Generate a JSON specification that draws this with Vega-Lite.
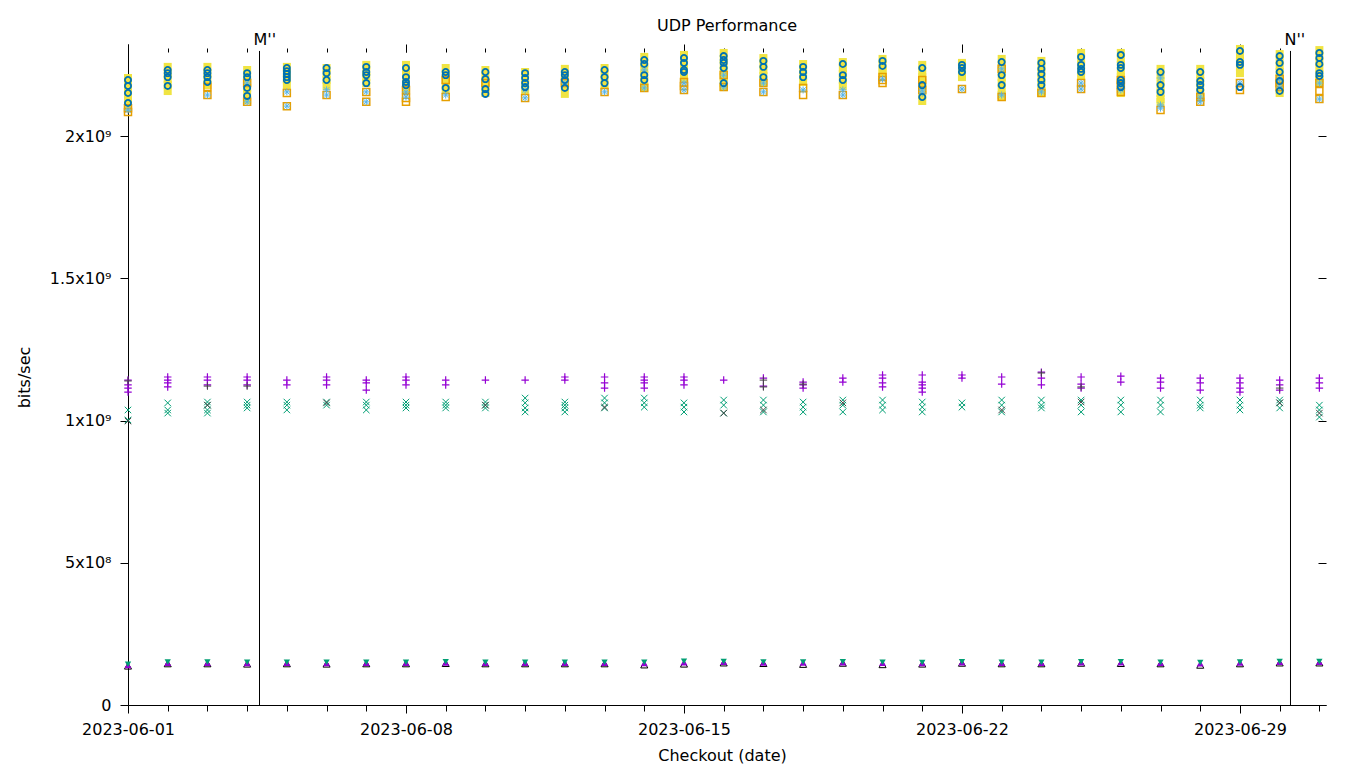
{
 "$schema": "https://vega.github.io/schema/vega-lite/v6.json",
 "width": 1198, "height": 661,
 "autosize": {"type": "none"},
 "padding": {"left": 128, "top": 44, "right": 34, "bottom": 63},
 "background": "white",
 "config": {"font": "DejaVu Sans", "view": {"stroke": null},
  "axis": {"grid": false, "domainColor": "black", "tickColor": "black", "labelColor": "black", "titleColor": "black", "labelFontSize": 16, "titleFontSize": 16, "titleFontWeight": "normal", "labelFont": "DejaVu Sans", "titleFont": "DejaVu Sans", "domainWidth": 1, "tickWidth": 1}},
 "title": {"text": "UDP Performance", "fontSize": 16, "fontWeight": "normal", "color": "black", "font": "DejaVu Sans", "anchor": "middle", "baseline": "alphabetic", "offset": -15},
 "data": {"values": [
{"d":"2023-06-01","s":"Y","v":2.204},{"d":"2023-06-01","s":"Y","v":2.183},{"d":"2023-06-01","s":"Y","v":2.162},{"d":"2023-06-01","s":"Y","v":2.141},{"d":"2023-06-01","s":"Y","v":2.12},{"d":"2023-06-01","s":"Y","v":2.102},
{"d":"2023-06-01","s":"O","v":2.098},{"d":"2023-06-01","s":"O","v":2.084},{"d":"2023-06-01","s":"L","v":2.091},
{"d":"2023-06-01","s":"B","v":2.197},{"d":"2023-06-01","s":"B","v":2.176},{"d":"2023-06-01","s":"B","v":2.151},{"d":"2023-06-01","s":"B","v":2.116},
{"d":"2023-06-01","s":"P","v":1.142},{"d":"2023-06-01","s":"P","v":1.125},{"d":"2023-06-01","s":"P","v":1.114},{"d":"2023-06-01","s":"P","v":1.1},
{"d":"2023-06-01","s":"G","v":1.037},{"d":"2023-06-01","s":"G","v":1.002},{"d":"2023-06-01","s":"KP","v":1.139},{"d":"2023-06-01","s":"KX","v":0.998},
{"d":"2023-06-01","s":"PT","v":0.14},{"d":"2023-06-01","s":"GT","v":0.143},{"d":"2023-06-01","s":"KB","v":0.137},

{"d":"2023-06-02","s":"Y","v":2.243},{"d":"2023-06-02","s":"Y","v":2.221},{"d":"2023-06-02","s":"Y","v":2.2},{"d":"2023-06-02","s":"Y","v":2.179},{"d":"2023-06-02","s":"Y","v":2.158},
{"d":"2023-06-02","s":"B","v":2.232},{"d":"2023-06-02","s":"B","v":2.221},{"d":"2023-06-02","s":"B","v":2.207},{"d":"2023-06-02","s":"B","v":2.176},
{"d":"2023-06-02","s":"P","v":1.153},{"d":"2023-06-02","s":"P","v":1.142},{"d":"2023-06-02","s":"P","v":1.132},{"d":"2023-06-02","s":"P","v":1.118},
{"d":"2023-06-02","s":"G","v":1.062},{"d":"2023-06-02","s":"G","v":1.037},{"d":"2023-06-02","s":"G","v":1.026},
{"d":"2023-06-02","s":"PT","v":0.148},{"d":"2023-06-02","s":"GT","v":0.151},{"d":"2023-06-02","s":"KB","v":0.145},

{"d":"2023-06-03","s":"Y","v":2.243},{"d":"2023-06-03","s":"Y","v":2.221},{"d":"2023-06-03","s":"Y","v":2.2},{"d":"2023-06-03","s":"Y","v":2.179},
{"d":"2023-06-03","s":"O","v":2.172},{"d":"2023-06-03","s":"O","v":2.144},{"d":"2023-06-03","s":"L","v":2.144},
{"d":"2023-06-03","s":"B","v":2.232},{"d":"2023-06-03","s":"B","v":2.221},{"d":"2023-06-03","s":"B","v":2.207},{"d":"2023-06-03","s":"B","v":2.19},
{"d":"2023-06-03","s":"P","v":1.153},{"d":"2023-06-03","s":"P","v":1.142},{"d":"2023-06-03","s":"P","v":1.125},
{"d":"2023-06-03","s":"G","v":1.065},{"d":"2023-06-03","s":"G","v":1.054},{"d":"2023-06-03","s":"G","v":1.037},{"d":"2023-06-03","s":"G","v":1.026},
{"d":"2023-06-03","s":"KP","v":1.121},{"d":"2023-06-03","s":"KX","v":1.054},
{"d":"2023-06-03","s":"PT","v":0.148},{"d":"2023-06-03","s":"GT","v":0.151},{"d":"2023-06-03","s":"KB","v":0.145},

{"d":"2023-06-04","s":"Y","v":2.232},{"d":"2023-06-04","s":"Y","v":2.211},{"d":"2023-06-04","s":"Y","v":2.19},{"d":"2023-06-04","s":"Y","v":2.169},{"d":"2023-06-04","s":"Y","v":2.148},{"d":"2023-06-04","s":"Y","v":2.127},
{"d":"2023-06-04","s":"O","v":2.186},{"d":"2023-06-04","s":"O","v":2.12},{"d":"2023-06-04","s":"L","v":2.186},{"d":"2023-06-04","s":"L","v":2.12},
{"d":"2023-06-04","s":"B","v":2.221},{"d":"2023-06-04","s":"B","v":2.207},{"d":"2023-06-04","s":"B","v":2.169},{"d":"2023-06-04","s":"B","v":2.141},
{"d":"2023-06-04","s":"P","v":1.153},{"d":"2023-06-04","s":"P","v":1.142},{"d":"2023-06-04","s":"P","v":1.125},
{"d":"2023-06-04","s":"G","v":1.065},{"d":"2023-06-04","s":"G","v":1.054},{"d":"2023-06-04","s":"G","v":1.044},{"d":"2023-06-04","s":"KP","v":1.121},
{"d":"2023-06-04","s":"PT","v":0.147},{"d":"2023-06-04","s":"GT","v":0.15},{"d":"2023-06-04","s":"KB","v":0.144},

{"d":"2023-06-05","s":"Y","v":2.243},{"d":"2023-06-05","s":"Y","v":2.221},{"d":"2023-06-05","s":"Y","v":2.2},{"d":"2023-06-05","s":"Y","v":2.179},
{"d":"2023-06-05","s":"O","v":2.151},{"d":"2023-06-05","s":"O","v":2.105},{"d":"2023-06-05","s":"L","v":2.155},{"d":"2023-06-05","s":"L","v":2.105},
{"d":"2023-06-05","s":"B","v":2.239},{"d":"2023-06-05","s":"B","v":2.228},{"d":"2023-06-05","s":"B","v":2.218},{"d":"2023-06-05","s":"B","v":2.207},{"d":"2023-06-05","s":"B","v":2.197},
{"d":"2023-06-05","s":"P","v":1.142},{"d":"2023-06-05","s":"P","v":1.125},
{"d":"2023-06-05","s":"G","v":1.065},{"d":"2023-06-05","s":"G","v":1.054},{"d":"2023-06-05","s":"G","v":1.037},
{"d":"2023-06-05","s":"PT","v":0.148},{"d":"2023-06-05","s":"GT","v":0.15},{"d":"2023-06-05","s":"KB","v":0.145},

{"d":"2023-06-06","s":"Y","v":2.239},{"d":"2023-06-06","s":"Y","v":2.218},{"d":"2023-06-06","s":"Y","v":2.197},{"d":"2023-06-06","s":"Y","v":2.176},
{"d":"2023-06-06","s":"O","v":2.144},{"d":"2023-06-06","s":"L","v":2.162},{"d":"2023-06-06","s":"L","v":2.144},
{"d":"2023-06-06","s":"B","v":2.239},{"d":"2023-06-06","s":"B","v":2.221},{"d":"2023-06-06","s":"B","v":2.197},
{"d":"2023-06-06","s":"P","v":1.153},{"d":"2023-06-06","s":"P","v":1.142},{"d":"2023-06-06","s":"P","v":1.125},
{"d":"2023-06-06","s":"G","v":1.065},{"d":"2023-06-06","s":"G","v":1.054},{"d":"2023-06-06","s":"KX","v":1.062},
{"d":"2023-06-06","s":"PT","v":0.147},{"d":"2023-06-06","s":"GT","v":0.15},{"d":"2023-06-06","s":"KB","v":0.144},

{"d":"2023-06-07","s":"Y","v":2.25},{"d":"2023-06-07","s":"Y","v":2.228},{"d":"2023-06-07","s":"Y","v":2.207},{"d":"2023-06-07","s":"Y","v":2.186},
{"d":"2023-06-07","s":"O","v":2.155},{"d":"2023-06-07","s":"O","v":2.12},{"d":"2023-06-07","s":"L","v":2.155},{"d":"2023-06-07","s":"L","v":2.12},
{"d":"2023-06-07","s":"B","v":2.243},{"d":"2023-06-07","s":"B","v":2.225},{"d":"2023-06-07","s":"B","v":2.214},{"d":"2023-06-07","s":"B","v":2.186},
{"d":"2023-06-07","s":"P","v":1.142},{"d":"2023-06-07","s":"P","v":1.132},{"d":"2023-06-07","s":"P","v":1.107},
{"d":"2023-06-07","s":"G","v":1.065},{"d":"2023-06-07","s":"G","v":1.054},{"d":"2023-06-07","s":"G","v":1.037},
{"d":"2023-06-07","s":"PT","v":0.148},{"d":"2023-06-07","s":"GT","v":0.15},{"d":"2023-06-07","s":"KB","v":0.145},

{"d":"2023-06-08","s":"Y","v":2.25},{"d":"2023-06-08","s":"Y","v":2.228},{"d":"2023-06-08","s":"Y","v":2.207},{"d":"2023-06-08","s":"Y","v":2.186},{"d":"2023-06-08","s":"Y","v":2.165},
{"d":"2023-06-08","s":"O","v":2.162},{"d":"2023-06-08","s":"O","v":2.134},{"d":"2023-06-08","s":"O","v":2.12},{"d":"2023-06-08","s":"L","v":2.155},{"d":"2023-06-08","s":"L","v":2.137},
{"d":"2023-06-08","s":"B","v":2.239},{"d":"2023-06-08","s":"B","v":2.207},{"d":"2023-06-08","s":"B","v":2.19},{"d":"2023-06-08","s":"B","v":2.179},
{"d":"2023-06-08","s":"P","v":1.153},{"d":"2023-06-08","s":"P","v":1.142},{"d":"2023-06-08","s":"P","v":1.125},
{"d":"2023-06-08","s":"G","v":1.065},{"d":"2023-06-08","s":"G","v":1.054},{"d":"2023-06-08","s":"G","v":1.044},
{"d":"2023-06-08","s":"PT","v":0.148},{"d":"2023-06-08","s":"GT","v":0.15},{"d":"2023-06-08","s":"KB","v":0.145},

{"d":"2023-06-09","s":"Y","v":2.239},{"d":"2023-06-09","s":"Y","v":2.218},{"d":"2023-06-09","s":"Y","v":2.197},{"d":"2023-06-09","s":"Y","v":2.176},{"d":"2023-06-09","s":"Y","v":2.162},
{"d":"2023-06-09","s":"O","v":2.197},{"d":"2023-06-09","s":"O","v":2.137},{"d":"2023-06-09","s":"L","v":2.144},
{"d":"2023-06-09","s":"B","v":2.225},{"d":"2023-06-09","s":"B","v":2.214},{"d":"2023-06-09","s":"B","v":2.169},
{"d":"2023-06-09","s":"P","v":1.142},{"d":"2023-06-09","s":"P","v":1.125},
{"d":"2023-06-09","s":"G","v":1.065},{"d":"2023-06-09","s":"G","v":1.054},{"d":"2023-06-09","s":"G","v":1.044},
{"d":"2023-06-09","s":"PT","v":0.149},{"d":"2023-06-09","s":"GT","v":0.152},{"d":"2023-06-09","s":"KB","v":0.146},

{"d":"2023-06-10","s":"Y","v":2.232},{"d":"2023-06-10","s":"Y","v":2.211},{"d":"2023-06-10","s":"Y","v":2.19},{"d":"2023-06-10","s":"Y","v":2.169},{"d":"2023-06-10","s":"Y","v":2.151},
{"d":"2023-06-10","s":"O","v":2.186},
{"d":"2023-06-10","s":"B","v":2.225},{"d":"2023-06-10","s":"B","v":2.2},{"d":"2023-06-10","s":"B","v":2.165},{"d":"2023-06-10","s":"B","v":2.148},
{"d":"2023-06-10","s":"P","v":1.142},
{"d":"2023-06-10","s":"G","v":1.065},{"d":"2023-06-10","s":"G","v":1.054},{"d":"2023-06-10","s":"G","v":1.044},{"d":"2023-06-10","s":"KX","v":1.054},
{"d":"2023-06-10","s":"PT","v":0.148},{"d":"2023-06-10","s":"GT","v":0.15},{"d":"2023-06-10","s":"KB","v":0.145},

{"d":"2023-06-11","s":"Y","v":2.225},{"d":"2023-06-11","s":"Y","v":2.204},{"d":"2023-06-11","s":"Y","v":2.183},{"d":"2023-06-11","s":"Y","v":2.162},
{"d":"2023-06-11","s":"O","v":2.134},{"d":"2023-06-11","s":"L","v":2.162},{"d":"2023-06-11","s":"L","v":2.134},
{"d":"2023-06-11","s":"B","v":2.221},{"d":"2023-06-11","s":"B","v":2.204},{"d":"2023-06-11","s":"B","v":2.186},{"d":"2023-06-11","s":"B","v":2.172},
{"d":"2023-06-11","s":"P","v":1.142},
{"d":"2023-06-11","s":"G","v":1.079},{"d":"2023-06-11","s":"G","v":1.062},{"d":"2023-06-11","s":"G","v":1.044},{"d":"2023-06-11","s":"G","v":1.03},
{"d":"2023-06-11","s":"PT","v":0.148},{"d":"2023-06-11","s":"GT","v":0.15},{"d":"2023-06-11","s":"KB","v":0.145},

{"d":"2023-06-12","s":"Y","v":2.236},{"d":"2023-06-12","s":"Y","v":2.214},{"d":"2023-06-12","s":"Y","v":2.193},{"d":"2023-06-12","s":"Y","v":2.172},{"d":"2023-06-12","s":"Y","v":2.148},
{"d":"2023-06-12","s":"O","v":2.186},{"d":"2023-06-12","s":"L","v":2.186},
{"d":"2023-06-12","s":"B","v":2.225},{"d":"2023-06-12","s":"B","v":2.214},{"d":"2023-06-12","s":"B","v":2.197},{"d":"2023-06-12","s":"B","v":2.169},
{"d":"2023-06-12","s":"P","v":1.153},{"d":"2023-06-12","s":"P","v":1.142},
{"d":"2023-06-12","s":"G","v":1.065},{"d":"2023-06-12","s":"G","v":1.054},{"d":"2023-06-12","s":"G","v":1.044},{"d":"2023-06-12","s":"G","v":1.03},
{"d":"2023-06-12","s":"PT","v":0.148},{"d":"2023-06-12","s":"GT","v":0.15},{"d":"2023-06-12","s":"KB","v":0.145},

{"d":"2023-06-13","s":"Y","v":2.239},{"d":"2023-06-13","s":"Y","v":2.218},{"d":"2023-06-13","s":"Y","v":2.197},{"d":"2023-06-13","s":"Y","v":2.179},
{"d":"2023-06-13","s":"O","v":2.155},{"d":"2023-06-13","s":"L","v":2.155},
{"d":"2023-06-13","s":"B","v":2.232},{"d":"2023-06-13","s":"B","v":2.207},{"d":"2023-06-13","s":"B","v":2.186},
{"d":"2023-06-13","s":"P","v":1.153},{"d":"2023-06-13","s":"P","v":1.132},{"d":"2023-06-13","s":"P","v":1.114},
{"d":"2023-06-13","s":"G","v":1.079},{"d":"2023-06-13","s":"G","v":1.062},{"d":"2023-06-13","s":"G","v":1.044},{"d":"2023-06-13","s":"KX","v":1.047},
{"d":"2023-06-13","s":"PT","v":0.148},{"d":"2023-06-13","s":"GT","v":0.15},{"d":"2023-06-13","s":"KB","v":0.145},

{"d":"2023-06-14","s":"Y","v":2.278},{"d":"2023-06-14","s":"Y","v":2.257},{"d":"2023-06-14","s":"Y","v":2.236},{"d":"2023-06-14","s":"Y","v":2.214},{"d":"2023-06-14","s":"Y","v":2.193},{"d":"2023-06-14","s":"Y","v":2.172},
{"d":"2023-06-14","s":"O","v":2.169},{"d":"2023-06-14","s":"L","v":2.232},{"d":"2023-06-14","s":"L","v":2.169},
{"d":"2023-06-14","s":"B","v":2.267},{"d":"2023-06-14","s":"B","v":2.253},{"d":"2023-06-14","s":"B","v":2.214},{"d":"2023-06-14","s":"B","v":2.197},
{"d":"2023-06-14","s":"P","v":1.153},{"d":"2023-06-14","s":"P","v":1.142},{"d":"2023-06-14","s":"P","v":1.132},{"d":"2023-06-14","s":"P","v":1.114},
{"d":"2023-06-14","s":"G","v":1.079},{"d":"2023-06-14","s":"G","v":1.062},{"d":"2023-06-14","s":"G","v":1.047},
{"d":"2023-06-14","s":"PT","v":0.147},{"d":"2023-06-14","s":"GT","v":0.15},{"d":"2023-06-14","s":"KB","v":0.141},

{"d":"2023-06-15","s":"Y","v":2.285},{"d":"2023-06-15","s":"Y","v":2.264},{"d":"2023-06-15","s":"Y","v":2.243},{"d":"2023-06-15","s":"Y","v":2.221},{"d":"2023-06-15","s":"Y","v":2.2},
{"d":"2023-06-15","s":"O","v":2.19},{"d":"2023-06-15","s":"O","v":2.176},{"d":"2023-06-15","s":"O","v":2.162},{"d":"2023-06-15","s":"L","v":2.186},{"d":"2023-06-15","s":"L","v":2.162},
{"d":"2023-06-15","s":"B","v":2.274},{"d":"2023-06-15","s":"B","v":2.257},{"d":"2023-06-15","s":"B","v":2.232},{"d":"2023-06-15","s":"B","v":2.225},
{"d":"2023-06-15","s":"P","v":1.153},{"d":"2023-06-15","s":"P","v":1.142},{"d":"2023-06-15","s":"P","v":1.125},
{"d":"2023-06-15","s":"G","v":1.062},{"d":"2023-06-15","s":"G","v":1.047},{"d":"2023-06-15","s":"G","v":1.03},
{"d":"2023-06-15","s":"PT","v":0.15},{"d":"2023-06-15","s":"GT","v":0.154},{"d":"2023-06-15","s":"KB","v":0.144},

{"d":"2023-06-16","s":"Y","v":2.292},{"d":"2023-06-16","s":"Y","v":2.271},{"d":"2023-06-16","s":"Y","v":2.25},{"d":"2023-06-16","s":"Y","v":2.228},{"d":"2023-06-16","s":"Y","v":2.207},{"d":"2023-06-16","s":"Y","v":2.186},{"d":"2023-06-16","s":"Y","v":2.172},
{"d":"2023-06-16","s":"O","v":2.214},{"d":"2023-06-16","s":"O","v":2.172},{"d":"2023-06-16","s":"L","v":2.214},{"d":"2023-06-16","s":"L","v":2.172},
{"d":"2023-06-16","s":"B","v":2.281},{"d":"2023-06-16","s":"B","v":2.267},{"d":"2023-06-16","s":"B","v":2.257},{"d":"2023-06-16","s":"B","v":2.239},{"d":"2023-06-16","s":"B","v":2.186},
{"d":"2023-06-16","s":"P","v":1.142},
{"d":"2023-06-16","s":"G","v":1.072},{"d":"2023-06-16","s":"G","v":1.054},{"d":"2023-06-16","s":"G","v":1.026},{"d":"2023-06-16","s":"KX","v":1.026},
{"d":"2023-06-16","s":"PT","v":0.151},{"d":"2023-06-16","s":"GT","v":0.153},{"d":"2023-06-16","s":"KB","v":0.148},

{"d":"2023-06-17","s":"Y","v":2.274},{"d":"2023-06-17","s":"Y","v":2.253},{"d":"2023-06-17","s":"Y","v":2.232},{"d":"2023-06-17","s":"Y","v":2.211},{"d":"2023-06-17","s":"Y","v":2.19},
{"d":"2023-06-17","s":"O","v":2.186},{"d":"2023-06-17","s":"O","v":2.155},{"d":"2023-06-17","s":"L","v":2.186},{"d":"2023-06-17","s":"L","v":2.155},
{"d":"2023-06-17","s":"B","v":2.264},{"d":"2023-06-17","s":"B","v":2.243},{"d":"2023-06-17","s":"B","v":2.207},
{"d":"2023-06-17","s":"P","v":1.149},{"d":"2023-06-17","s":"P","v":1.121},
{"d":"2023-06-17","s":"G","v":1.072},{"d":"2023-06-17","s":"G","v":1.054},{"d":"2023-06-17","s":"G","v":1.03},
{"d":"2023-06-17","s":"KP","v":1.142},{"d":"2023-06-17","s":"KP","v":1.118},{"d":"2023-06-17","s":"KX","v":1.037},
{"d":"2023-06-17","s":"PT","v":0.149},{"d":"2023-06-17","s":"GT","v":0.151},{"d":"2023-06-17","s":"KB","v":0.146},

{"d":"2023-06-18","s":"Y","v":2.253},{"d":"2023-06-18","s":"Y","v":2.232},{"d":"2023-06-18","s":"Y","v":2.211},{"d":"2023-06-18","s":"Y","v":2.19},
{"d":"2023-06-18","s":"O","v":2.169},{"d":"2023-06-18","s":"O","v":2.144},{"d":"2023-06-18","s":"L","v":2.162},
{"d":"2023-06-18","s":"B","v":2.243},{"d":"2023-06-18","s":"B","v":2.225},{"d":"2023-06-18","s":"B","v":2.207},
{"d":"2023-06-18","s":"P","v":1.135},{"d":"2023-06-18","s":"P","v":1.125},{"d":"2023-06-18","s":"P","v":1.114},
{"d":"2023-06-18","s":"G","v":1.065},{"d":"2023-06-18","s":"G","v":1.047},{"d":"2023-06-18","s":"G","v":1.03},{"d":"2023-06-18","s":"KP","v":1.128},
{"d":"2023-06-18","s":"PT","v":0.149},{"d":"2023-06-18","s":"GT","v":0.151},{"d":"2023-06-18","s":"KB","v":0.143},

{"d":"2023-06-19","s":"Y","v":2.26},{"d":"2023-06-19","s":"Y","v":2.239},{"d":"2023-06-19","s":"Y","v":2.218},{"d":"2023-06-19","s":"Y","v":2.197},{"d":"2023-06-19","s":"Y","v":2.176},
{"d":"2023-06-19","s":"O","v":2.144},{"d":"2023-06-19","s":"L","v":2.162},{"d":"2023-06-19","s":"L","v":2.144},
{"d":"2023-06-19","s":"B","v":2.253},{"d":"2023-06-19","s":"B","v":2.214},{"d":"2023-06-19","s":"B","v":2.197},
{"d":"2023-06-19","s":"P","v":1.149},{"d":"2023-06-19","s":"P","v":1.135},
{"d":"2023-06-19","s":"G","v":1.072},{"d":"2023-06-19","s":"G","v":1.054},{"d":"2023-06-19","s":"G","v":1.03},{"d":"2023-06-19","s":"KX","v":1.062},
{"d":"2023-06-19","s":"PT","v":0.15},{"d":"2023-06-19","s":"GT","v":0.152},{"d":"2023-06-19","s":"KB","v":0.147},

{"d":"2023-06-20","s":"Y","v":2.271},{"d":"2023-06-20","s":"Y","v":2.25},{"d":"2023-06-20","s":"Y","v":2.228},{"d":"2023-06-20","s":"Y","v":2.221},
{"d":"2023-06-20","s":"O","v":2.207},{"d":"2023-06-20","s":"O","v":2.197},{"d":"2023-06-20","s":"O","v":2.186},{"d":"2023-06-20","s":"L","v":2.2},
{"d":"2023-06-20","s":"B","v":2.264},{"d":"2023-06-20","s":"B","v":2.246},
{"d":"2023-06-20","s":"P","v":1.16},{"d":"2023-06-20","s":"P","v":1.149},{"d":"2023-06-20","s":"P","v":1.132},{"d":"2023-06-20","s":"P","v":1.118},
{"d":"2023-06-20","s":"G","v":1.072},{"d":"2023-06-20","s":"G","v":1.054},{"d":"2023-06-20","s":"G","v":1.037},
{"d":"2023-06-20","s":"PT","v":0.148},{"d":"2023-06-20","s":"GT","v":0.15},{"d":"2023-06-20","s":"KB","v":0.142},

{"d":"2023-06-21","s":"Y","v":2.25},{"d":"2023-06-21","s":"Y","v":2.228},{"d":"2023-06-21","s":"Y","v":2.207},{"d":"2023-06-21","s":"Y","v":2.186},{"d":"2023-06-21","s":"Y","v":2.165},{"d":"2023-06-21","s":"Y","v":2.144},{"d":"2023-06-21","s":"Y","v":2.123},
{"d":"2023-06-21","s":"O","v":2.197},{"d":"2023-06-21","s":"O","v":2.162},{"d":"2023-06-21","s":"L","v":2.162},{"d":"2023-06-21","s":"L","v":2.151},
{"d":"2023-06-21","s":"B","v":2.239},{"d":"2023-06-21","s":"B","v":2.179},{"d":"2023-06-21","s":"B","v":2.137},
{"d":"2023-06-21","s":"P","v":1.16},{"d":"2023-06-21","s":"P","v":1.135},{"d":"2023-06-21","s":"P","v":1.125},{"d":"2023-06-21","s":"P","v":1.114},{"d":"2023-06-21","s":"P","v":1.1},
{"d":"2023-06-21","s":"G","v":1.065},{"d":"2023-06-21","s":"G","v":1.047},{"d":"2023-06-21","s":"G","v":1.03},
{"d":"2023-06-21","s":"PT","v":0.147},{"d":"2023-06-21","s":"GT","v":0.149},{"d":"2023-06-21","s":"KB","v":0.144},

{"d":"2023-06-22","s":"Y","v":2.257},{"d":"2023-06-22","s":"Y","v":2.236},{"d":"2023-06-22","s":"Y","v":2.214},{"d":"2023-06-22","s":"Y","v":2.207},
{"d":"2023-06-22","s":"O","v":2.165},{"d":"2023-06-22","s":"L","v":2.165},
{"d":"2023-06-22","s":"B","v":2.25},{"d":"2023-06-22","s":"B","v":2.239},{"d":"2023-06-22","s":"B","v":2.225},
{"d":"2023-06-22","s":"P","v":1.16},{"d":"2023-06-22","s":"P","v":1.149},
{"d":"2023-06-22","s":"G","v":1.062},{"d":"2023-06-22","s":"G","v":1.047},
{"d":"2023-06-22","s":"PT","v":0.15},{"d":"2023-06-22","s":"GT","v":0.152},{"d":"2023-06-22","s":"KB","v":0.147},

{"d":"2023-06-23","s":"Y","v":2.271},{"d":"2023-06-23","s":"Y","v":2.25},{"d":"2023-06-23","s":"Y","v":2.228},{"d":"2023-06-23","s":"Y","v":2.207},{"d":"2023-06-23","s":"Y","v":2.186},{"d":"2023-06-23","s":"Y","v":2.165},{"d":"2023-06-23","s":"Y","v":2.144},{"d":"2023-06-23","s":"Y","v":2.137},
{"d":"2023-06-23","s":"O","v":2.236},{"d":"2023-06-23","s":"O","v":2.137},{"d":"2023-06-23","s":"L","v":2.236},{"d":"2023-06-23","s":"L","v":2.144},
{"d":"2023-06-23","s":"B","v":2.26},{"d":"2023-06-23","s":"B","v":2.214},{"d":"2023-06-23","s":"B","v":2.179},
{"d":"2023-06-23","s":"P","v":1.153},{"d":"2023-06-23","s":"P","v":1.128},
{"d":"2023-06-23","s":"G","v":1.072},{"d":"2023-06-23","s":"G","v":1.054},{"d":"2023-06-23","s":"G","v":1.03},{"d":"2023-06-23","s":"KX","v":1.037},
{"d":"2023-06-23","s":"PT","v":0.148},{"d":"2023-06-23","s":"GT","v":0.15},{"d":"2023-06-23","s":"KB","v":0.145},

{"d":"2023-06-24","s":"Y","v":2.264},{"d":"2023-06-24","s":"Y","v":2.243},{"d":"2023-06-24","s":"Y","v":2.221},{"d":"2023-06-24","s":"Y","v":2.2},{"d":"2023-06-24","s":"Y","v":2.179},{"d":"2023-06-24","s":"Y","v":2.158},{"d":"2023-06-24","s":"Y","v":2.151},
{"d":"2023-06-24","s":"O","v":2.151},{"d":"2023-06-24","s":"L","v":2.155},
{"d":"2023-06-24","s":"B","v":2.257},{"d":"2023-06-24","s":"B","v":2.236},{"d":"2023-06-24","s":"B","v":2.218},{"d":"2023-06-24","s":"B","v":2.197},{"d":"2023-06-24","s":"B","v":2.179},
{"d":"2023-06-24","s":"P","v":1.17},{"d":"2023-06-24","s":"P","v":1.149},{"d":"2023-06-24","s":"P","v":1.125},
{"d":"2023-06-24","s":"G","v":1.072},{"d":"2023-06-24","s":"G","v":1.054},{"d":"2023-06-24","s":"G","v":1.044},{"d":"2023-06-24","s":"KP","v":1.167},
{"d":"2023-06-24","s":"PT","v":0.148},{"d":"2023-06-24","s":"GT","v":0.15},{"d":"2023-06-24","s":"KB","v":0.145},

{"d":"2023-06-25","s":"Y","v":2.292},{"d":"2023-06-25","s":"Y","v":2.271},{"d":"2023-06-25","s":"Y","v":2.25},{"d":"2023-06-25","s":"Y","v":2.228},{"d":"2023-06-25","s":"Y","v":2.214},
{"d":"2023-06-25","s":"O","v":2.186},{"d":"2023-06-25","s":"O","v":2.165},{"d":"2023-06-25","s":"L","v":2.186},{"d":"2023-06-25","s":"L","v":2.165},
{"d":"2023-06-25","s":"B","v":2.278},{"d":"2023-06-25","s":"B","v":2.25},{"d":"2023-06-25","s":"B","v":2.236},{"d":"2023-06-25","s":"B","v":2.225},
{"d":"2023-06-25","s":"P","v":1.153},{"d":"2023-06-25","s":"P","v":1.128},{"d":"2023-06-25","s":"P","v":1.114},
{"d":"2023-06-25","s":"G","v":1.072},{"d":"2023-06-25","s":"G","v":1.054},{"d":"2023-06-25","s":"G","v":1.03},
{"d":"2023-06-25","s":"KP","v":1.118},{"d":"2023-06-25","s":"KX","v":1.065},
{"d":"2023-06-25","s":"PT","v":0.15},{"d":"2023-06-25","s":"GT","v":0.152},{"d":"2023-06-25","s":"KB","v":0.147},

{"d":"2023-06-26","s":"Y","v":2.292},{"d":"2023-06-26","s":"Y","v":2.271},{"d":"2023-06-26","s":"Y","v":2.25},{"d":"2023-06-26","s":"Y","v":2.228},{"d":"2023-06-26","s":"Y","v":2.207},{"d":"2023-06-26","s":"Y","v":2.186},{"d":"2023-06-26","s":"Y","v":2.165},{"d":"2023-06-26","s":"Y","v":2.151},
{"d":"2023-06-26","s":"O","v":2.197},{"d":"2023-06-26","s":"O","v":2.179},{"d":"2023-06-26","s":"O","v":2.155},{"d":"2023-06-26","s":"L","v":2.162},
{"d":"2023-06-26","s":"B","v":2.285},{"d":"2023-06-26","s":"B","v":2.25},{"d":"2023-06-26","s":"B","v":2.239},{"d":"2023-06-26","s":"B","v":2.197},{"d":"2023-06-26","s":"B","v":2.186},{"d":"2023-06-26","s":"B","v":2.172},
{"d":"2023-06-26","s":"P","v":1.156},{"d":"2023-06-26","s":"P","v":1.135},
{"d":"2023-06-26","s":"G","v":1.072},{"d":"2023-06-26","s":"G","v":1.054},{"d":"2023-06-26","s":"G","v":1.03},
{"d":"2023-06-26","s":"PT","v":0.15},{"d":"2023-06-26","s":"GT","v":0.152},{"d":"2023-06-26","s":"KB","v":0.146},

{"d":"2023-06-27","s":"Y","v":2.236},{"d":"2023-06-27","s":"Y","v":2.214},{"d":"2023-06-27","s":"Y","v":2.193},{"d":"2023-06-27","s":"Y","v":2.172},{"d":"2023-06-27","s":"Y","v":2.151},{"d":"2023-06-27","s":"Y","v":2.13},{"d":"2023-06-27","s":"Y","v":2.12},
{"d":"2023-06-27","s":"O","v":2.091},{"d":"2023-06-27","s":"L","v":2.204},{"d":"2023-06-27","s":"L","v":2.109},{"d":"2023-06-27","s":"L","v":2.098},
{"d":"2023-06-27","s":"B","v":2.225},{"d":"2023-06-27","s":"B","v":2.179},{"d":"2023-06-27","s":"B","v":2.155},
{"d":"2023-06-27","s":"P","v":1.149},{"d":"2023-06-27","s":"P","v":1.135},{"d":"2023-06-27","s":"P","v":1.114},
{"d":"2023-06-27","s":"G","v":1.072},{"d":"2023-06-27","s":"G","v":1.054},{"d":"2023-06-27","s":"G","v":1.03},
{"d":"2023-06-27","s":"PT","v":0.148},{"d":"2023-06-27","s":"GT","v":0.15},{"d":"2023-06-27","s":"KB","v":0.145},

{"d":"2023-06-28","s":"Y","v":2.236},{"d":"2023-06-28","s":"Y","v":2.214},{"d":"2023-06-28","s":"Y","v":2.193},{"d":"2023-06-28","s":"Y","v":2.172},{"d":"2023-06-28","s":"Y","v":2.151},{"d":"2023-06-28","s":"Y","v":2.134},
{"d":"2023-06-28","s":"O","v":2.137},{"d":"2023-06-28","s":"O","v":2.12},{"d":"2023-06-28","s":"L","v":2.137},{"d":"2023-06-28","s":"L","v":2.12},
{"d":"2023-06-28","s":"B","v":2.225},{"d":"2023-06-28","s":"B","v":2.193},{"d":"2023-06-28","s":"B","v":2.179},{"d":"2023-06-28","s":"B","v":2.162},
{"d":"2023-06-28","s":"P","v":1.149},{"d":"2023-06-28","s":"P","v":1.132},{"d":"2023-06-28","s":"P","v":1.107},
{"d":"2023-06-28","s":"G","v":1.072},{"d":"2023-06-28","s":"G","v":1.054},{"d":"2023-06-28","s":"G","v":1.044},
{"d":"2023-06-28","s":"PT","v":0.146},{"d":"2023-06-28","s":"GT","v":0.149},{"d":"2023-06-28","s":"KB","v":0.14},

{"d":"2023-06-29","s":"Y","v":2.306},{"d":"2023-06-29","s":"Y","v":2.285},{"d":"2023-06-29","s":"Y","v":2.264},{"d":"2023-06-29","s":"Y","v":2.243},{"d":"2023-06-29","s":"Y","v":2.221},
{"d":"2023-06-29","s":"O","v":2.186},{"d":"2023-06-29","s":"O","v":2.162},{"d":"2023-06-29","s":"L","v":2.186},
{"d":"2023-06-29","s":"B","v":2.299},{"d":"2023-06-29","s":"B","v":2.26},{"d":"2023-06-29","s":"B","v":2.25},{"d":"2023-06-29","s":"B","v":2.172},
{"d":"2023-06-29","s":"P","v":1.149},{"d":"2023-06-29","s":"P","v":1.132},{"d":"2023-06-29","s":"P","v":1.114},{"d":"2023-06-29","s":"P","v":1.1},
{"d":"2023-06-29","s":"G","v":1.072},{"d":"2023-06-29","s":"G","v":1.054},{"d":"2023-06-29","s":"G","v":1.037},
{"d":"2023-06-29","s":"PT","v":0.149},{"d":"2023-06-29","s":"GT","v":0.151},{"d":"2023-06-29","s":"KB","v":0.145},

{"d":"2023-06-30","s":"Y","v":2.288},{"d":"2023-06-30","s":"Y","v":2.267},{"d":"2023-06-30","s":"Y","v":2.246},{"d":"2023-06-30","s":"Y","v":2.225},{"d":"2023-06-30","s":"Y","v":2.204},{"d":"2023-06-30","s":"Y","v":2.183},{"d":"2023-06-30","s":"Y","v":2.162},{"d":"2023-06-30","s":"Y","v":2.151},
{"d":"2023-06-30","s":"O","v":2.2},{"d":"2023-06-30","s":"O","v":2.186},{"d":"2023-06-30","s":"O","v":2.172},{"d":"2023-06-30","s":"L","v":2.2},{"d":"2023-06-30","s":"L","v":2.172},
{"d":"2023-06-30","s":"B","v":2.281},{"d":"2023-06-30","s":"B","v":2.257},{"d":"2023-06-30","s":"B","v":2.225},{"d":"2023-06-30","s":"B","v":2.193},{"d":"2023-06-30","s":"B","v":2.158},
{"d":"2023-06-30","s":"P","v":1.142},{"d":"2023-06-30","s":"P","v":1.125},{"d":"2023-06-30","s":"P","v":1.107},
{"d":"2023-06-30","s":"G","v":1.072},{"d":"2023-06-30","s":"G","v":1.062},{"d":"2023-06-30","s":"G","v":1.044},
{"d":"2023-06-30","s":"KP","v":1.114},{"d":"2023-06-30","s":"KX","v":1.062},
{"d":"2023-06-30","s":"PT","v":0.151},{"d":"2023-06-30","s":"GT","v":0.153},{"d":"2023-06-30","s":"KB","v":0.148},

{"d":"2023-07-01","s":"Y","v":2.302},{"d":"2023-07-01","s":"Y","v":2.281},{"d":"2023-07-01","s":"Y","v":2.26},{"d":"2023-07-01","s":"Y","v":2.239},{"d":"2023-07-01","s":"Y","v":2.218},{"d":"2023-07-01","s":"Y","v":2.197},{"d":"2023-07-01","s":"Y","v":2.19},
{"d":"2023-07-01","s":"O","v":2.186},{"d":"2023-07-01","s":"O","v":2.158},{"d":"2023-07-01","s":"O","v":2.13},{"d":"2023-07-01","s":"L","v":2.186},{"d":"2023-07-01","s":"L","v":2.13},
{"d":"2023-07-01","s":"B","v":2.292},{"d":"2023-07-01","s":"B","v":2.274},{"d":"2023-07-01","s":"B","v":2.253},{"d":"2023-07-01","s":"B","v":2.221},{"d":"2023-07-01","s":"B","v":2.211},
{"d":"2023-07-01","s":"P","v":1.149},{"d":"2023-07-01","s":"P","v":1.132},{"d":"2023-07-01","s":"P","v":1.114},
{"d":"2023-07-01","s":"G","v":1.054},{"d":"2023-07-01","s":"G","v":1.037},{"d":"2023-07-01","s":"G","v":1.012},{"d":"2023-07-01","s":"KX","v":1.026},
{"d":"2023-07-01","s":"PT","v":0.151},{"d":"2023-07-01","s":"GT","v":0.153},{"d":"2023-07-01","s":"KB","v":0.148}
 ]},
 "resolve": {"axis": {"x": "independent", "y": "independent"}},
 "layer": [
  {"transform": [{"filter": "datum.s === 'Y'"}],
   "mark": {"type": "point", "shape": "square", "filled": true, "color": "#f0e442", "size": 64, "opacity": 1},
   "encoding": {
    "x": {"field": "d", "type": "temporal", "scale": {"type": "utc", "nice": false, "domain": [{"year": 2023, "month": 6, "date": 1, "utc": true}, {"year": 2023, "month": 7, "date": 1, "hours": 4, "utc": true}]},
     "axis": {"orient": "bottom", "values": [{"year": 2023, "month": 6, "date": 1, "utc": true}, {"year": 2023, "month": 6, "date": 8, "utc": true}, {"year": 2023, "month": 6, "date": 15, "utc": true}, {"year": 2023, "month": 6, "date": 22, "utc": true}, {"year": 2023, "month": 6, "date": 29, "utc": true}], "format": "%Y-%m-%d", "tickSize": 8, "labelPadding": 8, "labelFlush": false, "labelOverlap": false, "title": "Checkout (date)", "titleX": 594, "titleY": 55, "titleBaseline": "alphabetic", "titleAlign": "center"}},
    "y": {"field": "v", "type": "quantitative", "scale": {"domain": [0, 2.3234], "nice": false, "zero": false},
     "axis": {"orient": "left", "values": [0, 0.5, 1, 1.5, 2], "labelExpr": "datum.value === 0 ? '0' : datum.value === 0.5 ? '5x10⁸' : datum.value === 1 ? '1x10⁹' : datum.value === 1.5 ? '1.5x10⁹' : '2x10⁹'", "tickSize": 8, "labelPadding": 9, "title": "bits/sec", "titleX": -104, "titleY": 333, "titleBaseline": "middle", "titleAngle": 270, "titleAlign": "center"}}
   }},
  {"transform": [{"filter": "datum.s === 'O'"}],
   "mark": {"type": "point", "shape": "square", "filled": false, "color": "#e69f00", "size": 49, "strokeWidth": 1.5, "opacity": 1},
   "encoding": {
    "x": {"field": "d", "type": "temporal", "scale": {"type": "utc", "nice": false, "domain": [{"year": 2023, "month": 6, "date": 1, "utc": true}, {"year": 2023, "month": 7, "date": 1, "hours": 4, "utc": true}]},
     "axis": {"orient": "bottom", "tickCount": {"interval": "day", "step": 1}, "labels": false, "domain": false, "title": null, "tickSize": 6}},
    "y": {"field": "v", "type": "quantitative", "scale": {"domain": [0, 2.3234], "nice": false, "zero": false},
     "axis": {"orient": "right", "values": [0, 0.5, 1, 1.5, 2], "labels": false, "domain": false, "title": null, "tickSize": 8, "offset": -8}}
   }},
  {"transform": [{"filter": "datum.s === 'L'"}],
   "mark": {"type": "point", "shape": "M-1,0H1M0,-1V1M-0.75,-0.75L0.75,0.75M-0.75,0.75L0.75,-0.75", "filled": false, "color": "#56b4e9", "size": 49, "strokeWidth": 1, "opacity": 1},
   "encoding": {
    "x": {"field": "d", "type": "temporal", "scale": {"type": "utc", "nice": false, "domain": [{"year": 2023, "month": 6, "date": 1, "utc": true}, {"year": 2023, "month": 7, "date": 1, "hours": 4, "utc": true}]},
     "axis": {"orient": "top", "tickCount": {"interval": "day", "step": 1}, "labels": false, "domain": false, "title": null, "tickSize": 4, "offset": -8}},
    "y": {"field": "v", "type": "quantitative", "scale": {"domain": [0, 2.3234], "nice": false, "zero": false}, "axis": null}
   }},
  {"transform": [{"filter": "datum.s === 'B'"}],
   "mark": {"type": "point", "shape": "circle", "filled": false, "color": "#0072b2", "size": 38, "strokeWidth": 1.8, "opacity": 1},
   "encoding": {
    "x": {"field": "d", "type": "temporal", "scale": {"type": "utc", "nice": false, "domain": [{"year": 2023, "month": 6, "date": 1, "utc": true}, {"year": 2023, "month": 7, "date": 1, "hours": 4, "utc": true}]},
     "axis": {"orient": "top", "values": [{"year": 2023, "month": 6, "date": 1, "utc": true}, {"year": 2023, "month": 6, "date": 8, "utc": true}, {"year": 2023, "month": 6, "date": 15, "utc": true}, {"year": 2023, "month": 6, "date": 22, "utc": true}, {"year": 2023, "month": 6, "date": 29, "utc": true}], "labels": false, "domain": false, "title": null, "tickSize": 8, "offset": -8}},
    "y": {"field": "v", "type": "quantitative", "scale": {"domain": [0, 2.3234], "nice": false, "zero": false}, "axis": null}
   }},
  {"transform": [{"filter": "datum.s === 'P'"}],
   "mark": {"type": "point", "shape": "M-1,0H1M0,-1V1", "filled": false, "color": "#9400d3", "size": 56, "strokeWidth": 1.2, "opacity": 1},
   "encoding": {
    "x": {"field": "d", "type": "temporal", "scale": {"type": "utc", "nice": false, "domain": [{"year": 2023, "month": 6, "date": 1, "utc": true}, {"year": 2023, "month": 7, "date": 1, "hours": 4, "utc": true}]}, "axis": null},
    "y": {"field": "v", "type": "quantitative", "scale": {"domain": [0, 2.3234], "nice": false, "zero": false}, "axis": null}
   }},
  {"transform": [{"filter": "datum.s === 'G'"}],
   "mark": {"type": "point", "shape": "M-1,-1L1,1M-1,1L1,-1", "filled": false, "color": "#009e73", "size": 42, "strokeWidth": 1, "opacity": 1},
   "encoding": {
    "x": {"field": "d", "type": "temporal", "scale": {"type": "utc", "nice": false, "domain": [{"year": 2023, "month": 6, "date": 1, "utc": true}, {"year": 2023, "month": 7, "date": 1, "hours": 4, "utc": true}]}, "axis": null},
    "y": {"field": "v", "type": "quantitative", "scale": {"domain": [0, 2.3234], "nice": false, "zero": false}, "axis": null}
   }},
  {"transform": [{"filter": "datum.s === 'KP'"}],
   "mark": {"type": "point", "shape": "M-1,0H1M0,-1V1", "filled": false, "color": "#444444", "size": 56, "strokeWidth": 1, "opacity": 1},
   "encoding": {
    "x": {"field": "d", "type": "temporal", "scale": {"type": "utc", "nice": false, "domain": [{"year": 2023, "month": 6, "date": 1, "utc": true}, {"year": 2023, "month": 7, "date": 1, "hours": 4, "utc": true}]}, "axis": null},
    "y": {"field": "v", "type": "quantitative", "scale": {"domain": [0, 2.3234], "nice": false, "zero": false}, "axis": null}
   }},
  {"transform": [{"filter": "datum.s === 'KX'"}],
   "mark": {"type": "point", "shape": "M-1,-1L1,1M-1,1L1,-1", "filled": false, "color": "#444444", "size": 42, "strokeWidth": 1, "opacity": 1},
   "encoding": {
    "x": {"field": "d", "type": "temporal", "scale": {"type": "utc", "nice": false, "domain": [{"year": 2023, "month": 6, "date": 1, "utc": true}, {"year": 2023, "month": 7, "date": 1, "hours": 4, "utc": true}]}, "axis": null},
    "y": {"field": "v", "type": "quantitative", "scale": {"domain": [0, 2.3234], "nice": false, "zero": false}, "axis": null}
   }},
  {"transform": [{"filter": "datum.s === 'KB'"}],
   "mark": {"type": "point", "shape": "triangle-up", "filled": false, "color": "black", "size": 50, "strokeWidth": 1, "opacity": 1},
   "encoding": {
    "x": {"field": "d", "type": "temporal", "scale": {"type": "utc", "nice": false, "domain": [{"year": 2023, "month": 6, "date": 1, "utc": true}, {"year": 2023, "month": 7, "date": 1, "hours": 4, "utc": true}]}, "axis": null},
    "y": {"field": "v", "type": "quantitative", "scale": {"domain": [0, 2.3234], "nice": false, "zero": false}, "axis": null}
   }},
  {"transform": [{"filter": "datum.s === 'PT'"}],
   "mark": {"type": "point", "shape": "triangle-up", "filled": true, "color": "#9400d3", "size": 50, "opacity": 1},
   "encoding": {
    "x": {"field": "d", "type": "temporal", "scale": {"type": "utc", "nice": false, "domain": [{"year": 2023, "month": 6, "date": 1, "utc": true}, {"year": 2023, "month": 7, "date": 1, "hours": 4, "utc": true}]}, "axis": null},
    "y": {"field": "v", "type": "quantitative", "scale": {"domain": [0, 2.3234], "nice": false, "zero": false}, "axis": null}
   }},
  {"transform": [{"filter": "datum.s === 'GT'"}],
   "mark": {"type": "point", "shape": "triangle-down", "filled": true, "color": "#009e73", "size": 40, "opacity": 1},
   "encoding": {
    "x": {"field": "d", "type": "temporal", "scale": {"type": "utc", "nice": false, "domain": [{"year": 2023, "month": 6, "date": 1, "utc": true}, {"year": 2023, "month": 7, "date": 1, "hours": 4, "utc": true}]}, "axis": null},
    "y": {"field": "v", "type": "quantitative", "scale": {"domain": [0, 2.3234], "nice": false, "zero": false}, "axis": null}
   }},
  {"data": {"values": [{"d": "2023-06-04T07:28:15Z", "lab": "M''"}, {"d": "2023-06-30T06:32:45Z", "lab": "N''"}]},
   "mark": {"type": "rule", "color": "black", "strokeWidth": 1},
   "encoding": {
    "x": {"field": "d", "type": "temporal", "scale": {"type": "utc", "nice": false, "domain": [{"year": 2023, "month": 6, "date": 1, "utc": true}, {"year": 2023, "month": 7, "date": 1, "hours": 4, "utc": true}]}, "axis": null},
    "y": {"datum": 2.299, "type": "quantitative", "scale": {"domain": [0, 2.3234], "nice": false, "zero": false}, "axis": null},
    "y2": {"datum": 0}
   }},
  {"data": {"values": [{"d": "2023-06-04T07:28:15Z", "lab": "M''"}, {"d": "2023-06-30T06:32:45Z", "lab": "N''"}]},
   "mark": {"type": "text", "align": "left", "baseline": "alphabetic", "dx": -6, "fontSize": 16, "font": "DejaVu Sans", "color": "black"},
   "encoding": {
    "x": {"field": "d", "type": "temporal", "scale": {"type": "utc", "nice": false, "domain": [{"year": 2023, "month": 6, "date": 1, "utc": true}, {"year": 2023, "month": 7, "date": 1, "hours": 4, "utc": true}]}, "axis": null},
    "y": {"datum": 2.32, "type": "quantitative", "scale": {"domain": [0, 2.3234], "nice": false, "zero": false}, "axis": null},
    "text": {"field": "lab"}
   }}
 ]
}
